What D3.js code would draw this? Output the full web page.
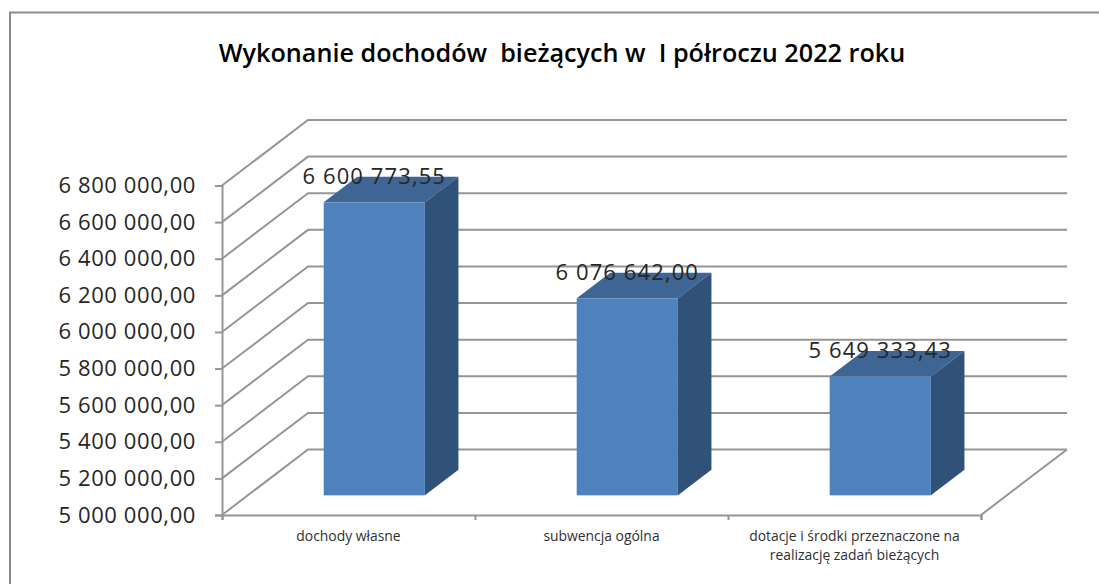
<!DOCTYPE html>
<meta charset="utf-8">
<title>Wykonanie dochodów bieżących</title>
<style>

html, body {
  margin: 0;
  background: #fff;
}

svg {
  display: block;
  font-family: 'Open Sans', sans-serif;
}

.frame, .grid {
  fill: none;
  stroke: #8c8c8c;
  stroke-width: 2px;
}

.grid {
  stroke: #969696;
}

.axis path, .axis line {
  stroke: #969696;
  stroke-width: 2px;
}

.axis text {
  font-family: 'Open Sans', sans-serif;
  font-size: 22px;
  letter-spacing: 0.6px;
  fill: #262626;
}

.front { fill: #4f81bd; }
.side { fill: #305279; }
.top { fill: #3e6593; }

.value {
  font-size: 22px;
  letter-spacing: 1.1px;
  fill: #262626;
  text-anchor: middle;
}

.category {
  font-size: 13.9px;
  fill: #303030;
  text-anchor: middle;
}

.title {
  font-size: 25.2px;
  font-weight: 600;
  fill: #000;
  text-anchor: middle;
  white-space: pre;
}

</style>
<body>
<script src="https://cdn.jsdelivr.net/npm/d3@7"></script>
<script>

var titleText = "Wykonanie dochodów  bieżących w  I półroczu 2022 roku";
var categories = ["dochody własne", "subwencja ogólna", "dotacje i środki przeznaczone na realizację zadań bieżących"];
var values = [6600773.55, 6076642.00, 5649333.43];
var yTicks = [5000000, 5200000, 5400000, 5600000, 5800000, 6000000, 6200000, 6400000, 6600000, 6800000];

var width = 1099,
    height = 584;

var pl = d3.formatLocale({decimal: ",", thousands: " ", grouping: [3], currency: ["", ""]});
var fmt = pl.format(",.2f");

var svg = d3.select("body").append("svg")
    .attr("width", width)
    .attr("height", height);

var y = d3.scaleLinear().domain([5000000, 6800000]).range([515, 185.5]);

var x = d3.scaleBand().domain(categories).range([222, 981])
    .paddingInner(0.6).paddingOuter(0.3);

// depth of the 3d box: 0 is the front plane, 1 the back wall
var dx = d3.scaleLinear().domain([0, 1]).range([0, 86]);
var dy = d3.scaleLinear().domain([0, 1]).range([0, -65.5]);

var barFront = 0.3,
    barBack = 0.69;

// chart border, only left and top are visible
svg.append("path")
    .attr("class", "frame")
    .attr("d", "M10," + height + "V12.5H" + width);

svg.append("text")
    .attr("class", "title")
    .attr("x", 562)
    .attr("y", 62)
    .text(titleText);

// walls
svg.selectAll(".grid")
    .data(yTicks)
  .enter().append("path")
    .attr("class", "grid")
    .attr("d", function(d) {
      return "M" + x.range()[0] + "," + y(d) +
        "L" + (x.range()[0] + dx(1)) + "," + (y(d) + dy(1)) +
        "H" + (x.range()[1] + dx(1));
    });

// floor edge on the right
svg.append("path")
    .attr("class", "grid")
    .attr("d", "M" + x.range()[1] + "," + y(yTicks[0]) +
      "L" + (x.range()[1] + dx(1)) + "," + (y(yTicks[0]) + dy(1)));

svg.append("g")
    .attr("class", "axis")
    .attr("transform", "translate(222,0)")
    .call(d3.axisLeft(y).tickValues(yTicks).tickFormat(fmt).tickSize(7).tickPadding(19));

var edges = d3.scalePoint().domain(d3.range(categories.length + 1)).range(x.range());

svg.append("g")
    .attr("class", "axis")
    .attr("transform", "translate(0,515)")
    .call(d3.axisBottom(edges).tickFormat("").tickSize(5));

var bars = svg.selectAll(".bar")
    .data(values)
  .enter().append("g")
    .attr("class", "bar");

function px(i) { return x(categories[i]); }

bars.append("path")
    .attr("class", "top")
    .attr("d", function(d, i) {
      var x0 = px(i) + dx(barFront), x1 = x0 + x.bandwidth(),
          y0 = y(d) + dy(barFront), sx = dx(barBack - barFront), sy = dy(barBack - barFront);
      return "M" + x0 + "," + y0 + "L" + (x0 + sx) + "," + (y0 + sy) +
        "H" + (x1 + sx) + "L" + x1 + "," + y0 + "Z";
    });

bars.append("path")
    .attr("class", "side")
    .attr("d", function(d, i) {
      var x1 = px(i) + dx(barFront) + x.bandwidth(),
          y0 = y(d) + dy(barFront), y1 = y(yTicks[0]) + dy(barFront),
          sx = dx(barBack - barFront), sy = dy(barBack - barFront);
      return "M" + x1 + "," + y0 + "L" + (x1 + sx) + "," + (y0 + sy) +
        "V" + (y1 + sy) + "L" + x1 + "," + y1 + "Z";
    });

bars.append("rect")
    .attr("class", "front")
    .attr("x", function(d, i) { return px(i) + dx(barFront); })
    .attr("y", function(d) { return y(d) + dy(barFront); })
    .attr("width", x.bandwidth())
    .attr("height", function(d) { return y(yTicks[0]) - y(d); });

bars.append("text")
    .attr("class", "value")
    .attr("x", function(d, i) { return px(i) + dx(barFront) + x.bandwidth() / 2; })
    .attr("y", function(d) { return y(d) + dy(barFront) - 18; })
    .text(fmt);

// category labels, wrapped to the width of one category
svg.selectAll(".category")
    .data(categories)
  .enter().append("text")
    .attr("class", "category")
    .attr("y", 541)
    .each(function(d, i) {
      var el = d3.select(this),
          cx = (edges(i) + edges(i + 1)) / 2,
          words = d.split(" "),
          line = [],
          tspan = el.append("tspan").attr("x", cx);
      words.forEach(function(w) {
        line.push(w);
        tspan.text(line.join(" "));
        if (tspan.node().getComputedTextLength() > 225) {
          line.pop();
          tspan.text(line.join(" "));
          line = [w];
          tspan = el.append("tspan").attr("x", cx).attr("dy", 19).text(w);
        }
      });
    });

</script>
</body>
</html>
